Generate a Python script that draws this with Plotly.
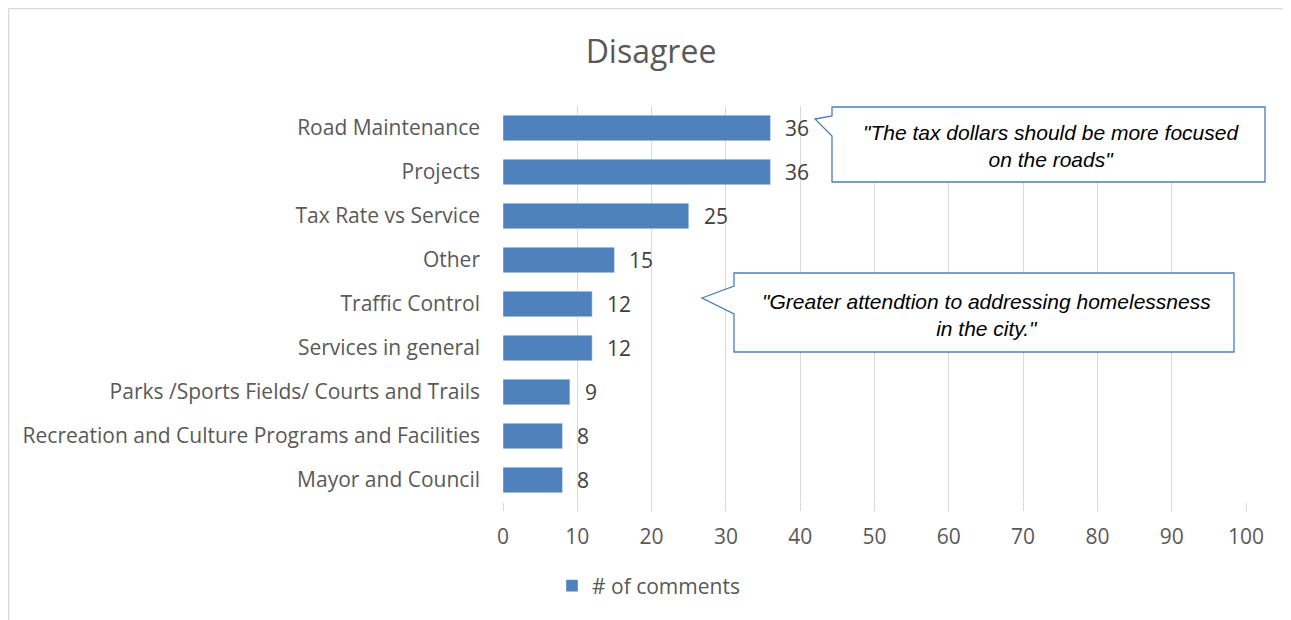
import plotly.graph_objects as go

categories = ['Road Maintenance', 'Projects', 'Tax Rate vs Service', 'Other',
              'Traffic Control', 'Services in general',
              'Parks /Sports Fields/ Courts and Trails',
              'Recreation and Culture Programs and Facilities', 'Mayor and Council']
comments = [36, 36, 25, 15, 12, 12, 9, 8, 8]
x_ticks = [0, 10, 20, 30, 40, 50, 60, 70, 80, 90, 100]
quote1 = '<i>"The tax dollars should be more focused<br>on the roads"</i>'
quote2 = '<i>"Greater attendtion to addressing homelessness<br>in the city."</i>'

OFF = 8  # page body margin
W, H = 1291 - OFF, 620 - OFF
L = 503 - OFF
T = 106 - OFF
B = H - (502 - OFF)
R = W - (1246 - OFF)
pw, ph = W - L - R, H - T - B
FONT = 'Open Sans'


def px(x):
    return (x - OFF - L) / pw


def py(y):
    return (H - B - (y - OFF)) / ph


def callout(x0, y0, x1, y1, tipx, tipy, ya, yb):
    pts = [(x0, y0), (x1, y0), (x1, y1), (x0, y1), (x0, yb), (tipx, tipy), (x0, ya), (x0, y0)]
    d = 'M ' + ' L '.join(f'{px(a):.5f},{py(b):.5f}' for a, b in pts) + ' Z'
    return dict(type='path', xref='paper', yref='paper', path=d,
                line=dict(color='#4a7ebb', width=1.3), fillcolor='white', layer='above')


fig = go.Figure()
fig.add_trace(go.Bar(y=categories, x=comments, orientation='h', name='# of comments',
                     marker_color='#4f81bd', width=0.58))

for c, v in zip(categories, comments):
    fig.add_annotation(x=v, y=c, text=str(v), showarrow=False, xanchor='left',
                       xshift=13, font=dict(family=FONT, size=21, color='#404040'))

fig.add_shape(callout(832, 107, 1265, 182, 815, 119, 116, 136))
fig.add_shape(callout(734, 273, 1234, 352, 702, 298, 286, 314))
fig.add_annotation(xref='paper', yref='paper', x=px(1051), y=py(146), text=quote1,
                   xanchor='center', yanchor='middle', showarrow=False,
                   font=dict(family='Liberation Sans', size=21, color='black'))
fig.add_annotation(xref='paper', yref='paper', x=px(986), y=py(315), text=quote2,
                   xanchor='center', yanchor='middle', showarrow=False,
                   font=dict(family='Liberation Sans', size=21, color='black'))

# outer chart border (top and left visible)
fig.add_shape(type='line', xref='paper', yref='paper', x0=px(8.5), x1=px(1291), y0=py(8.5), y1=py(8.5),
              line=dict(color='#d9d9d9', width=1.5))
fig.add_shape(type='line', xref='paper', yref='paper', x0=px(8.5), x1=px(8.5), y0=py(8.5), y1=py(620),
              line=dict(color='#d9d9d9', width=1.5))

fig.update_layout(
    width=W, height=H,
    margin=dict(l=L, r=R, t=T, b=B),
    paper_bgcolor='white', plot_bgcolor='white',
    title=dict(text='Disagree', x=(651 - OFF) / W, xanchor='center', y=1 - (52 - OFF) / H,
               yanchor='middle', font=dict(family=FONT, size=32, color='#595959')),
    font=dict(family=FONT, size=21, color='#595959'),
    showlegend=True,
    legend=dict(orientation='h', x=px(552), xanchor='left', y=py(586), yanchor='middle',
                font=dict(family=FONT, size=21, color='#595959'), itemwidth=30),
    bargap=0.42,
)
fig.update_xaxes(range=[0, 100], tickvals=x_ticks, showgrid=True, gridcolor='#d9d9d9',
                 gridwidth=1, zeroline=False, ticks='outside', ticklen=8, tickcolor='#d9d9d9',
                 ticklabelstandoff=8, showline=False)
fig.update_yaxes(autorange='reversed', showgrid=False, ticks='', ticklabelstandoff=22,
                 showline=False)

fig.write_html('out.html')
